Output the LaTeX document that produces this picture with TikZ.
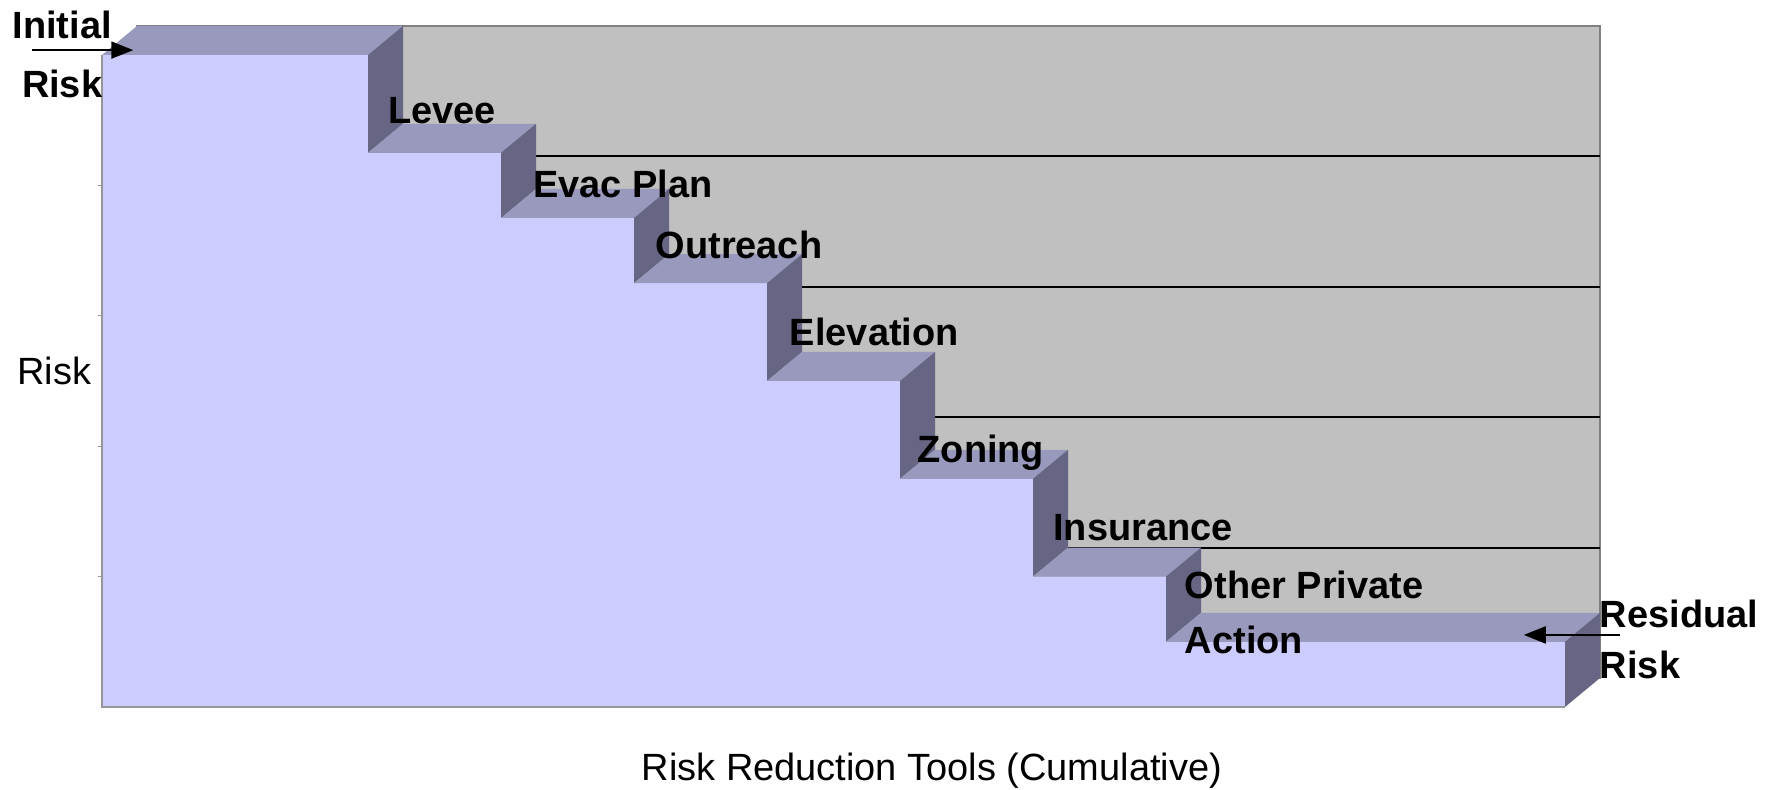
\documentclass[tikz,border=0pt]{standalone}
\usepackage{fontspec}
\setmainfont{Liberation Sans}
\usetikzlibrary{arrows.meta}

\definecolor{frontblue}{RGB}{204,204,255}
\definecolor{topblue}{RGB}{153,153,190}
\definecolor{sideblue}{RGB}{102,102,132}
\definecolor{wallgray}{RGB}{192,192,192}
\definecolor{wallborder}{RGB}{128,128,128}
\definecolor{edgegray}{RGB}{150,150,150}

\begin{document}
\begin{tikzpicture}[
x=2.66cm,
y=0.652cm,
wall/.style={
  fill=wallgray,
  draw=wallborder,
  line width=0.8pt
  },
gridline/.style={draw=black, line width=1.2pt},
front/.style={fill=frontblue},
treadface/.style={fill=topblue},
riserface/.style={fill=sideblue},
steplabel/.style={
  anchor=base west,
  inner sep=0pt,
  font=\bfseries\fontsize{21.6}{31}\selectfont
  },
axislabel/.style={
  inner sep=0pt,
  font=\fontsize{21.6}{26}\selectfont
  },
riskarrow/.style={
  line width=1.2pt,
  -{Triangle[length=0.44cm,width=0.34cm]}
  }
]

\useasboundingbox (-0.767,-2.546) rectangle (12.579,21.687);

% back wall
\begin{scope}[shift={(0.7cm,0.58cm)}]
  \draw[wall] (0,0) rectangle (11,20);
  \foreach \g in {4,8,12,16}
    \draw[gridline] (0,\g) -- (11,\g);
\end{scope}

% front of the stairs
\fill[front] (0,0) -- (0,20) -- (2,20) -- (2,17) -- (3,17) -- (3,15)
  -- (4,15) -- (4,13) -- (5,13) -- (5,10) -- (6,10) -- (6,7) -- (7,7)
  -- (7,4) -- (8,4) -- (8,2) -- (11,2) -- (11,0) -- cycle;
\draw[edgegray, line width=0.6pt] (0,20) -- (0,0) -- (11,0);
\foreach \g in {4,8,12,16}
  \draw[edgegray, line width=0.6pt] (0,\g) -- ++(-0.08cm,0);

% treads and risers
\foreach \cs/\ce/\v/\vn in {0/2/20/17, 2/3/17/15, 3/4/15/13, 4/5/13/10,
                            5/6/10/7, 6/7/7/4, 7/8/4/2, 8/11/2/0}
{
  \fill[treadface] (\cs,\v) -- (\ce,\v) -- ++(0.7cm,0.58cm) -- ++({\cs-\ce},0) -- cycle;
  \fill[riserface] (\ce,\v) -- (\ce,\vn) -- ++(0.7cm,0.58cm) -- ++(0,{\v-\vn}) -- cycle;
}

% tool labels
\foreach \nm/\txt/\c/\v in {levee/Levee/2.15/17.9, evac/Evac Plan/3.24/15.64,
    outreach/Outreach/4.16/13.77, elevation/Elevation/5.17/11.1,
    zoning/Zoning/6.13/7.5, insurance/Insurance/7.15/5.12}
  \node[steplabel] (\nm) at (\c,\v) {\txt};
\node[steplabel, align=left, font=\bfseries\fontsize{21.6}{31.3}\selectfont]
  (other) at (8.14,1.63) {Other Private\\Action};

% start and end of the risk
\node[steplabel, align=center, anchor=base, font=\bfseries\fontsize{21.6}{33.5}\selectfont]
  (initial) at (-0.30,18.71) {Initial\\Risk};
\node[steplabel, align=left, font=\bfseries\fontsize{21.6}{29}\selectfont]
  (residual) at (11.26,0.86) {Residual\\Risk};
\coordinate (initTail) at (-0.53,20.15);
\coordinate (initTip) at (0.235,20.15);
\coordinate (resTail) at (11.41,2.21);
\coordinate (resTip) at (10.69,2.21);
\draw[riskarrow] (initTail) -- (initTip);
\draw[riskarrow] (resTail) -- (resTip);

% axis titles
\node[axislabel, anchor=base west] (riskaxis) at (-0.64,9.88) {Risk};
\node[axislabel, anchor=base] (toolsaxis) at (6.24,-2.24) {Risk Reduction Tools (Cumulative)};
\end{tikzpicture}
\end{document}
